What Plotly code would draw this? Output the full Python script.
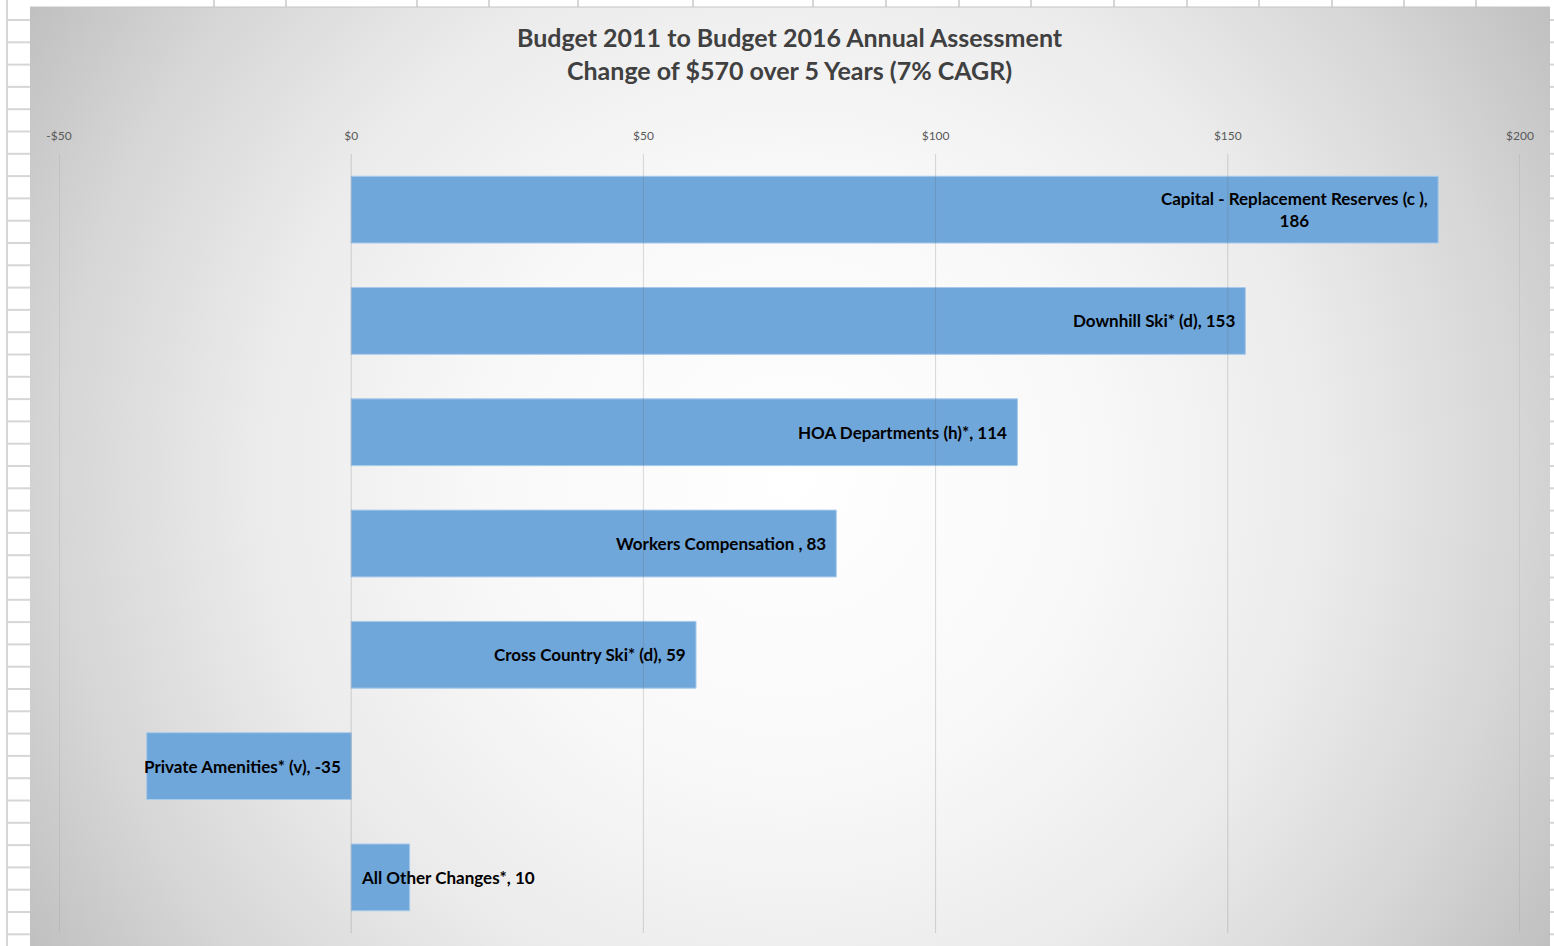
import base64
import plotly.graph_objects as go

# ---- data -------------------------------------------------------------
categories = [
    "Capital - Replacement Reserves (c )",
    "Downhill Ski* (d)",
    "HOA Departments (h)*",
    "Workers Compensation ",
    "Cross Country Ski* (d)",
    "Private Amenities* (v)",
    "All Other Changes*",
]
values = [186, 153, 114, 83, 59, -35, 10]

tick_vals = [-50, 0, 50, 100, 150, 200]
tick_text = ["-$50", "$0", "$50", "$100", "$150", "$200"]

title_lines = [
    "Budget 2011 to Budget 2016 Annual Assessment",
    "Change of $570 over 5 Years (7% CAGR)",
]

# ---- page geometry (pixels) --------------------------------------------
W, H = 1554, 946
PL, PR, PT, PB = 59, 1520, 154, 933          # plot area
CL, CR, CT, CB = 30, 1550, 7, 946            # chart area inside the sheet


def px_x(p):
    return (p - PL) / (PR - PL)


def px_y(p):
    return (PB - p) / (PB - PT)


FONT = "Lato, 'Open Sans', sans-serif"
BAR = "#70a7db"

# radial grey-to-white chart background
cw, ch = CR - CL, CB - CT
svg = f"""<svg xmlns='http://www.w3.org/2000/svg' width='{cw}' height='{ch}' viewBox='0 0 {cw} {ch}'>
<defs><radialGradient id='g' gradientUnits='userSpaceOnUse' cx='{cw/2}' cy='{ch/2}' r='{((cw/2)**2+(ch/2)**2)**0.5:.0f}'>
<stop offset='0' stop-color='#ffffff'/>
<stop offset='0.35' stop-color='#f8f8f8'/>
<stop offset='0.6' stop-color='#ebebeb'/>
<stop offset='0.82' stop-color='#d6d6d6'/>
<stop offset='1' stop-color='#c0c0c0'/>
</radialGradient></defs>
<rect width='{cw}' height='{ch}' fill='url(#g)'/></svg>"""
bg_src = "data:image/svg+xml;base64," + base64.b64encode(svg.encode()).decode()

fig = go.Figure()
fig.add_trace(go.Bar(
    x=values,
    y=categories,
    orientation="h",
    marker=dict(color=BAR, line=dict(color="#a8caea", width=1)),
    hoverinfo="x+y",
))

# ---- value labels ------------------------------------------------------
annotations = []
for name, v in zip(categories, values):
    text = f"{name}, {v}" if len(name) <= 30 else f"{name},<br>{v}"
    if abs(v) < 40:
        # short bars: label starts from the zero line
        x, anchor, shift = 0, ("right" if v < 0 else "left"), (-8 if v < 0 else 8)
    else:
        x, anchor, shift = v, "right", -8
    annotations.append(dict(
        x=x, y=name, xref="x", yref="y", text=f"<b>{text}</b>",
        showarrow=False, xanchor=anchor, yanchor="middle", xshift=shift,
        align="center", font=dict(family=FONT, size=17, color="#000000"),
    ))

annotations.append(dict(
    x=px_x((CL + CR) / 2), y=px_y(53), xref="paper", yref="paper",
    text="<b>" + "<br>".join(title_lines) + "</b>",
    showarrow=False, xanchor="center", yanchor="middle", align="center",
    font=dict(family=FONT, size=25, color="#404040"),
))

# ---- shapes: sheet cells around the chart and value gridlines ----------
shapes = []
grid_col = "#d6d6d6"
shapes.append(dict(type="line", xref="paper", yref="paper",
                   x0=px_x(7), x1=px_x(7), y0=px_y(0), y1=px_y(H),
                   line=dict(color=grid_col, width=2), layer="below"))
yy = 20.0
while yy < H:
    for a, b in ((7, CL), (CR, W)):
        shapes.append(dict(type="line", xref="paper", yref="paper",
                           x0=px_x(a), x1=px_x(b), y0=px_y(yy), y1=px_y(yy),
                           line=dict(color=grid_col, width=2), layer="below"))
    yy += 22.3
for xx in [214, 286, 417, 489, 578, 693, 813, 886, 959, 1031, 1114,
           1187, 1259, 1332, 1404, 1476]:
    shapes.append(dict(type="line", xref="paper", yref="paper",
                       x0=px_x(xx), x1=px_x(xx), y0=px_y(0), y1=px_y(CT),
                       line=dict(color=grid_col, width=2), layer="below"))
shapes.append(dict(type="line", xref="paper", yref="paper",
                   x0=px_x(CL), x1=px_x(CR), y0=px_y(CT), y1=px_y(CT),
                   line=dict(color="#c4c4c4", width=1), layer="below"))

for t in tick_vals:
    shapes.append(dict(type="line", xref="x", yref="paper",
                       x0=t, x1=t, y0=0, y1=1,
                       line=dict(color="rgba(100,100,100,0.24)", width=1),
                       layer="above"))

fig.update_layout(
    width=W, height=H,
    margin=dict(l=PL, r=W - PR, t=PT, b=H - PB, pad=0),
    paper_bgcolor="#ffffff",
    plot_bgcolor="rgba(0,0,0,0)",
    showlegend=False,
    bargap=0.4,
    font=dict(family=FONT),
    images=[dict(source=bg_src, xref="paper", yref="paper",
                 x=px_x(CL), y=px_y(CT),
                 sizex=px_x(CR) - px_x(CL), sizey=px_y(CT) - px_y(CB),
                 xanchor="left", yanchor="top", sizing="stretch",
                 layer="below")],
    annotations=annotations,
    shapes=shapes,
    xaxis=dict(
        range=[-50, 200], side="top", tickvals=tick_vals, ticktext=tick_text,
        tickfont=dict(family=FONT, size=12, color="#595959"),
        ticks="outside", ticklen=8, tickcolor="rgba(0,0,0,0)",
        showgrid=False, zeroline=False, showline=False, fixedrange=True,
    ),
    yaxis=dict(
        categoryorder="array", categoryarray=categories, autorange="reversed",
        showticklabels=False, showgrid=False, zeroline=False, showline=False,
        fixedrange=True,
    ),
)

fig.write_html("out.html")
